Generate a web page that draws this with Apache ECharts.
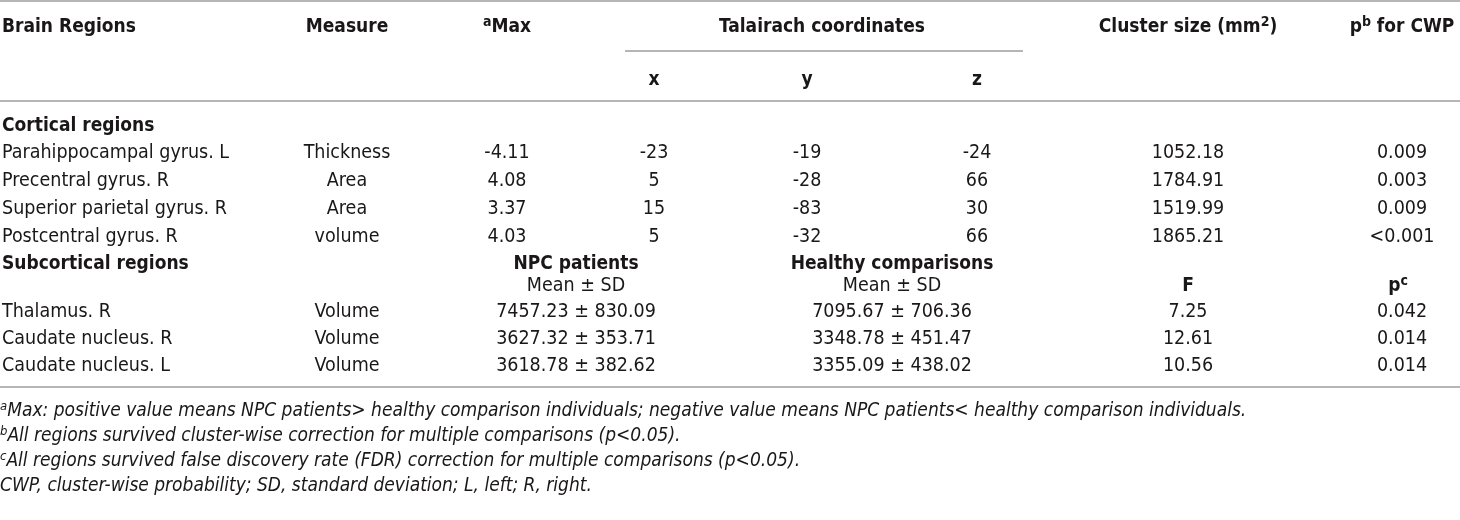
<!DOCTYPE html>
<html>
<head>
<meta charset="utf-8">
<script src="https://cdn.jsdelivr.net/npm/echarts@6/dist/echarts.min.js"></script>
<style>
  html, body { margin: 0; padding: 0; background: #fff; }
  #table { width: 1460px; height: 520px; }
</style>
</head>
<body>
<div id="table"></div>
<script>
// table data
const corticalRegions = ['Parahippocampal gyrus. L', 'Precentral gyrus. R', 'Superior parietal gyrus. R', 'Postcentral gyrus. R'];
const corticalMeasure = ['Thickness', 'Area', 'Area', 'volume'];
const corticalMax = ['-4.11', '4.08', '3.37', '4.03'];
const talX = ['-23', '5', '15', '5'];
const talY = ['-19', '-28', '-83', '-32'];
const talZ = ['-24', '66', '30', '66'];
const clusterSize = ['1052.18', '1784.91', '1519.99', '1865.21'];
const pCWP = ['0.009', '0.003', '0.009', '<0.001'];

const subRegions = ['Thalamus. R', 'Caudate nucleus. R', 'Caudate nucleus. L'];
const subMeasure = ['Volume', 'Volume', 'Volume'];
const npcMean = ['7457.23', '3627.32', '3618.78'];
const npcSD = ['830.09', '353.71', '382.62'];
const hcMean = ['7095.67', '3348.78', '3355.09'];
const hcSD = ['706.36', '451.47', '438.02'];
const fValues = ['7.25', '12.61', '10.56'];
const pFDR = ['0.042', '0.014', '0.014'];

const footMarks = ['a', 'b', 'c', ''];
const footTexts = [
    'Max: positive value means NPC patients> healthy comparison individuals; negative value means NPC patients< healthy comparison individuals.',
    'All regions survived cluster-wise correction for multiple comparisons (p<0.05).',
    'All regions survived false discovery rate (FDR) correction for multiple comparisons (p<0.05).',
    'CWP, cluster-wise probability; SD, standard deviation; L, left; R, right.'
];

// layout (pixels)
const FONT = "'DejaVu Sans Condensed', sans-serif";
const INK = '#1a1718';
const colX = { region: 2, measure: 347, max: 507, tx: 654, ty: 807, tz: 977, cluster: 1188, p: 1402, npc: 576, hc: 892 };
const rowY = { head: 27, xyz: 80, cortical: 126, cortRows: [153, 181, 209, 237], sub: 264, meanSD: 286, subRows: [312, 339, 366], foot: [411, 436, 461, 486] };
const rules = [
    { x0: 0, x1: 1460, y: 1 },
    { x0: 625, x1: 1023, y: 51 },
    { x0: 0, x1: 1460, y: 101 },
    { x0: 0, x1: 1460, y: 387 }
];

const rich = {
    b: { fontFamily: FONT, fontSize: 19, fontWeight: 'bold', color: INK, lineHeight: 24 },
    r: { fontFamily: FONT, fontSize: 19.5, color: INK, lineHeight: 24 },
    bs: { fontFamily: FONT, fontSize: 14, fontWeight: 'bold', color: INK, lineHeight: 12, verticalAlign: 'top' },
    fs: { fontFamily: FONT, fontSize: 13, fontStyle: 'italic', color: INK, lineHeight: 10, verticalAlign: 'top' },
    fi: { fontFamily: FONT, fontSize: 19, fontStyle: 'italic', color: INK, lineHeight: 22 }
};

const cells = [];
function cell(x, y, text, align) {
    cells.push({ value: [x, y], label: { formatter: text, align: align || 'center' } });
}

// header
cell(colX.region, rowY.head, '{b|Brain Regions}', 'left');
cell(colX.measure, rowY.head, '{b|Measure}');
cell(colX.max, rowY.head, '{bs|a}{b|Max}');
cell(colX.ty + 15, rowY.head, '{b|Talairach coordinates}');
cell(colX.cluster, rowY.head, '{b|Cluster size (mm}{bs|2}{b|)}');
cell(colX.p, rowY.head, '{b|p}{bs|b}{b| for CWP}');
cell(colX.tx, rowY.xyz, '{b|x}');
cell(colX.ty, rowY.xyz, '{b|y}');
cell(colX.tz, rowY.xyz, '{b|z}');

// cortical block
cell(colX.region, rowY.cortical, '{b|Cortical regions}', 'left');
corticalRegions.forEach(function (name, i) {
    const y = rowY.cortRows[i];
    cell(colX.region, y, '{r|' + name + '}', 'left');
    cell(colX.measure, y, '{r|' + corticalMeasure[i] + '}');
    cell(colX.max, y, '{r|' + corticalMax[i] + '}');
    cell(colX.tx, y, '{r|' + talX[i] + '}');
    cell(colX.ty, y, '{r|' + talY[i] + '}');
    cell(colX.tz, y, '{r|' + talZ[i] + '}');
    cell(colX.cluster, y, '{r|' + clusterSize[i] + '}');
    cell(colX.p, y, '{r|' + pCWP[i] + '}');
});

// subcortical block
cell(colX.region, rowY.sub, '{b|Subcortical regions}', 'left');
cell(colX.npc, rowY.sub, '{b|NPC patients}');
cell(colX.hc, rowY.sub, '{b|Healthy comparisons}');
cell(colX.npc, rowY.meanSD, '{r|Mean ± SD}');
cell(colX.hc, rowY.meanSD, '{r|Mean ± SD}');
cell(colX.cluster, rowY.meanSD, '{b|F}');
cell(colX.p - 4, rowY.meanSD, '{b|p}{bs|c}');
subRegions.forEach(function (name, i) {
    const y = rowY.subRows[i];
    cell(colX.region, y, '{r|' + name + '}', 'left');
    cell(colX.measure, y, '{r|' + subMeasure[i] + '}');
    cell(colX.npc, y, '{r|' + npcMean[i] + ' ± ' + npcSD[i] + '}');
    cell(colX.hc, y, '{r|' + hcMean[i] + ' ± ' + hcSD[i] + '}');
    cell(colX.cluster, y, '{r|' + fValues[i] + '}');
    cell(colX.p, y, '{r|' + pFDR[i] + '}');
});

// footnotes
footTexts.forEach(function (t, i) {
    const mark = footMarks[i] ? '{fs|' + footMarks[i] + '}' : '';
    cell(colX.region - 2, rowY.foot[i], mark + '{fi|' + t + '}', 'left');
});

const chart = echarts.init(document.getElementById('table'));
chart.setOption({
    animation: false,
    grid: { left: 0, right: 0, top: 0, bottom: 0 },
    xAxis: { type: 'value', min: 0, max: 1460, show: false },
    yAxis: { type: 'value', min: 0, max: 520, inverse: true, show: false },
    series: [
        {
            type: 'lines',
            coordinateSystem: 'cartesian2d',
            silent: true,
            lineStyle: { color: '#9d9d9d', width: 1.6, opacity: 1 },
            data: rules.map(function (r) { return { coords: [[r.x0, r.y], [r.x1, r.y]] }; })
        },
        {
            type: 'scatter',
            symbolSize: 0,
            silent: true,
            label: {
                show: true,
                position: 'inside',
                verticalAlign: 'middle',
                color: INK,
                opacity: 1,
                rich: rich
            },
            data: cells
        }
    ]
});
</script>
</body>
</html>
